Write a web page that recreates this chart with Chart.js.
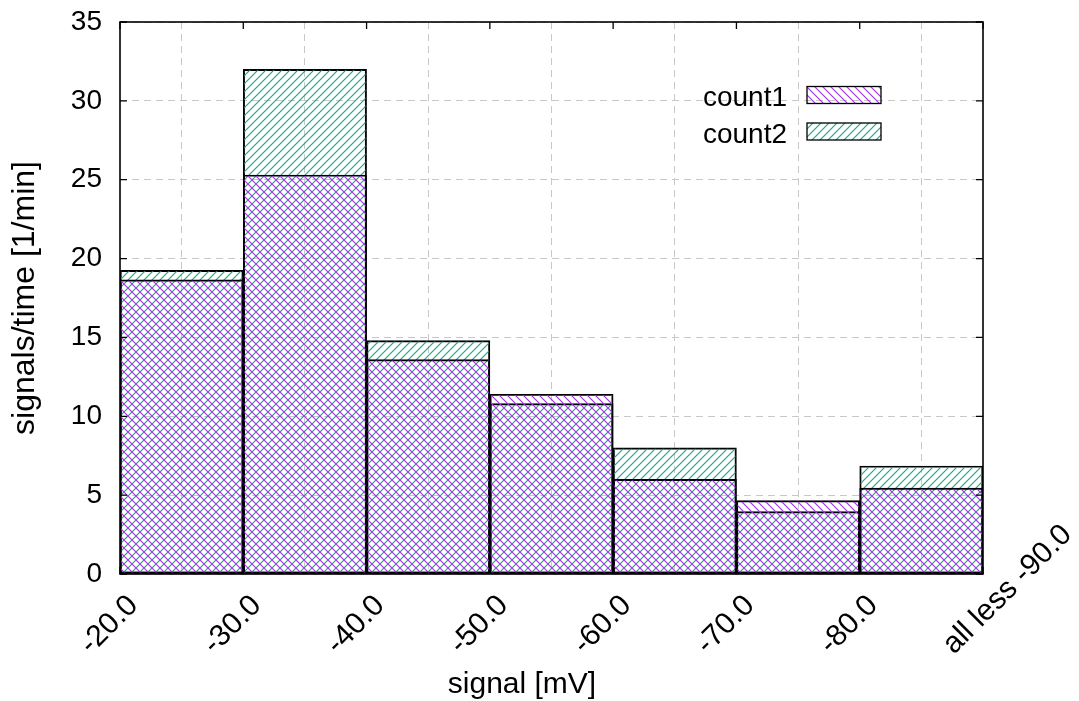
<!DOCTYPE html>
<html><head><meta charset="utf-8">
<script src="https://cdn.jsdelivr.net/npm/chart.js@4.4.0/dist/chart.umd.min.js"></script>
<style>html,body{margin:0;padding:0;background:#fff;}canvas{display:block;}</style>
</head><body>
<canvas id="c" width="1079" height="701"></canvas>
<script>
// ---- data ----
const xTickLabels = ['-20.0', '-30.0', '-40.0', '-50.0', '-60.0', '-70.0', '-80.0', 'all less -90.0'];
const seriesNames = ['count1', 'count2'];
const count1 = [18.65, 25.3, 13.6, 11.4, 6.0, 4.65, 5.45];
const count2 = [19.25, 32.0, 14.8, 10.8, 8.0, 3.95, 6.85];
const yTicks = [0, 5, 10, 15, 20, 25, 30, 35];
const xTitle = 'signal [mV]';
const yTitle = 'signals/time [1/min]';

// ---- style ----
const FONT = '"Liberation Sans", Arial, sans-serif';
const C1 = '#a434e2', C2 = '#1aa882';

function hatch(color, dir) {
  const s = 8, cv = document.createElement('canvas');
  cv.width = s; cv.height = s;
  const g = cv.getContext('2d');
  g.strokeStyle = color; g.lineWidth = 1.15;
  g.beginPath();
  if (dir === '/') {
    g.moveTo(-2, s + 2); g.lineTo(s + 2, -2);
    g.moveTo(-2, 2); g.lineTo(2, -2);
    g.moveTo(s - 2, s + 2); g.lineTo(s + 2, s - 2);
  } else {
    g.moveTo(-2, -2); g.lineTo(s + 2, s + 2);
    g.moveTo(-2, s - 2); g.lineTo(2, s + 2);
    g.moveTo(s - 2, -2); g.lineTo(s + 2, 2);
  }
  g.stroke();
  return g.createPattern(cv, 'repeat');
}
const pat1 = hatch(C1, '\\');
const pat2 = hatch(C2, '/');

const toPoints = arr => arr.map((v, i) => ({ x: i + 0.5, y: v }));

const framePlugin = {
  id: 'frame',
  afterDatasetsDraw(chart) {
    const { ctx, chartArea: a, scales } = chart;
    ctx.save();
    ctx.strokeStyle = '#000';
    ctx.lineWidth = 1.3;
    const tl = 7;
    ctx.beginPath();
    yTicks.forEach(v => {
      const y = scales.y.getPixelForValue(v);
      ctx.moveTo(a.left, y); ctx.lineTo(a.left + tl, y);
      ctx.moveTo(a.right, y); ctx.lineTo(a.right - tl, y);
    });
    xTickLabels.forEach((_, i) => {
      const x = scales.x.getPixelForValue(i);
      ctx.moveTo(x, a.top); ctx.lineTo(x, a.top + tl);
      ctx.moveTo(x, a.bottom); ctx.lineTo(x, a.bottom - tl);
    });
    ctx.stroke();
    ctx.lineWidth = 1.6;
    ctx.strokeRect(a.left, a.top, a.right - a.left, a.bottom - a.top);
    ctx.restore();
  }
};

// x tick labels: gnuplot style, rotated 45deg and left-justified at an offset below each tick
const xLabelPlugin = {
  id: 'xLabels',
  afterDraw(chart) {
    const { ctx, chartArea: a, scales } = chart;
    ctx.save();
    ctx.font = '30px ' + FONT;
    ctx.fillStyle = '#000';
    ctx.textAlign = 'left';
    ctx.textBaseline = 'alphabetic';
    xTickLabels.forEach((lab, i) => {
      const x = scales.x.getPixelForValue(i);
      ctx.save();
      ctx.translate(x - 29, a.bottom + 81);
      ctx.rotate(-Math.PI / 4);
      ctx.fillText(lab, 0, 0);
      ctx.restore();
    });
    ctx.restore();
  }
};

const legendPlugin = {
  id: 'hatchLegend',
  afterDraw(chart) {
    const { ctx } = chart;
    ctx.save();
    ctx.font = '28px ' + FONT;
    ctx.textAlign = 'right';
    ctx.textBaseline = 'alphabetic';
    chart.data.datasets.forEach((ds, i) => {
      const rowY = 95 + i * 36.5;
      ctx.fillStyle = '#000';
      ctx.fillText(ds.label, 787, rowY + 11);
      ctx.fillStyle = ds.backgroundColor;
      ctx.fillRect(807, rowY - 8.5, 74, 17);
      ctx.strokeStyle = '#000';
      ctx.lineWidth = 1.3;
      ctx.strokeRect(807, rowY - 8.5, 74, 17);
    });
    ctx.restore();
  }
};

const xTitlePlugin = {
  id: 'xTitle',
  afterDraw(chart) {
    const { ctx } = chart;
    ctx.save();
    ctx.font = '30px ' + FONT;
    ctx.fillStyle = '#000';
    ctx.textAlign = 'center';
    ctx.textBaseline = 'middle';
    ctx.fillText(xTitle, 522, 685);
    ctx.restore();
  }
};

new Chart(document.getElementById('c'), {
  type: 'bar',
  data: {
    datasets: [
      { label: seriesNames[0], data: toPoints(count1), backgroundColor: pat1,
        borderColor: '#000', borderWidth: 1.3, borderSkipped: false },
      { label: seriesNames[1], data: toPoints(count2), backgroundColor: pat2,
        borderColor: '#000', borderWidth: 1.3, borderSkipped: false }
    ]
  },
  options: {
    responsive: false,
    animation: false,
    devicePixelRatio: 1,
    grouped: false,
    barPercentage: 1,
    categoryPercentage: 1,
    layout: { padding: { top: 22, right: 96, left: 0, bottom: 0 } },
    plugins: { legend: { display: false }, tooltip: { enabled: false } },
    scales: {
      x: {
        type: 'linear', min: 0, max: xTickLabels.length - 1, offset: false,
        ticks: { stepSize: 1, autoSkip: false, display: false },
        grid: { color: '#c8c8c8', lineWidth: 1, drawTicks: false },
        border: { display: false, dash: [7, 5] },
        afterFit: s => { s.height = 127; s.paddingLeft = 0; s.paddingRight = 0; }
      },
      y: {
        min: yTicks[0], max: yTicks[yTicks.length - 1],
        afterBuildTicks: s => { s.ticks = yTicks.map(v => ({ value: v })); },
        ticks: { padding: 18, color: '#000', font: { family: FONT, size: 28 } },
        grid: { color: '#c8c8c8', lineWidth: 1, drawTicks: false },
        border: { display: false, dash: [7, 5] },
        title: { display: true, text: yTitle, color: '#000',
                 font: { family: FONT, size: 32 }, padding: { top: 6, bottom: 0 } },
        afterFit: s => { s.width = 120; s.paddingTop = 0; s.paddingBottom = 0; }
      }
    }
  },
  plugins: [framePlugin, xLabelPlugin, legendPlugin, xTitlePlugin]
});
</script>
</body></html>
